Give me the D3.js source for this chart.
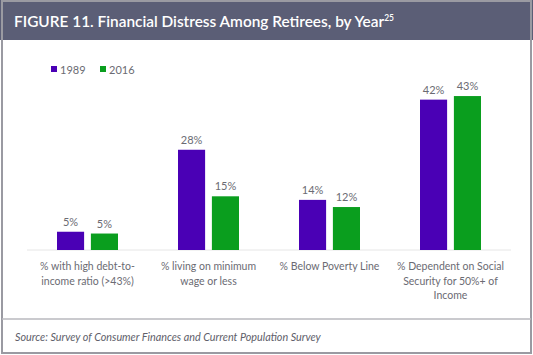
<!DOCTYPE html>
<html><head><meta charset="utf-8">
<script src="https://cdn.jsdelivr.net/npm/d3@7"></script>
<style>body{margin:0;background:#fff;}svg{display:block;}</style>
</head><body>
<script>
const categories = [
  ["% with high debt-to-", "income ratio (>43%)"],
  ["% living on minimum", "wage or less"],
  ["% Below Poverty Line"],
  ["% Dependent on Social", "Security for 50%+ of", "Income"]
];
const seriesNames = ["1989", "2016"];
const values1989 = [5.1, 28, 14, 42];
const values2016 = [4.6, 15, 12, 43];
const colors = ["#4a00b5", "#0a9e1e"];

const W = 533, H = 355;
const svg = d3.select("body").append("svg").attr("width", W).attr("height", H);
const font = "Lato, 'Source Sans Pro', sans-serif";

// frame
svg.append("rect").attr("x", 0).attr("y", 0).attr("width", W).attr("height", 40).attr("fill", "#5b5e76");
svg.append("rect").attr("x", 2).attr("y", 1).attr("width", 529).attr("height", 352)
  .attr("fill", "none").attr("stroke", "#9a9aa2").attr("stroke-width", 2);
svg.append("line").attr("x1", 2).attr("x2", 531).attr("y1", 319).attr("y2", 319).attr("stroke", "#b8b8be").attr("stroke-width", 1.5);

const title = svg.append("text").attr("x", 14).attr("y", 27).attr("fill", "#fff")
  .style("font-family", font).style("font-size", "15.4px").style("font-weight", "600");
title.append("tspan").text("FIGURE 11. Financial Distress Among Retirees, by Year");
title.append("tspan").attr("dy", -6).style("font-size", "8.5px").text("25");

// scales
const x0 = d3.scaleBand().domain(d3.range(categories.length)).range([27, 511]).padding(0);
const x1 = d3.scaleBand().domain(seriesNames).range([-30.5, 30.5]).paddingInner(0.2);
const y = d3.scaleLinear().domain([0, 50]).range([250, 71]);

svg.append("line").attr("x1", 27).attr("x2", 511).attr("y1", y(0)).attr("y2", y(0))
  .attr("stroke", "#e6e6e6").attr("stroke-width", 1);

const series = [values1989, values2016];
const fmt = d3.format(".0f");
series.forEach((vals, si) => {
  const g = svg.append("g");
  g.selectAll("rect").data(vals).join("rect")
    .attr("x", (d, i) => x0(i) + x0.bandwidth() / 2 + x1(seriesNames[si]))
    .attr("y", d => y(d)).attr("width", x1.bandwidth()).attr("height", d => y(0) - y(d))
    .attr("fill", colors[si]);
  g.selectAll("text").data(vals).join("text")
    .attr("x", (d, i) => x0(i) + x0.bandwidth() / 2 + x1(seriesNames[si]) + x1.bandwidth() / 2)
    .attr("y", d => y(d) - 6).attr("text-anchor", "middle")
    .attr("fill", "#6b6b73").style("font-family", font).style("font-size", "11px")
    .text(d => fmt(d) + "%");
});

// category labels
categories.forEach((lines, i) => {
  const t = svg.append("text").attr("x", x0(i) + x0.bandwidth() / 2).attr("y", 270)
    .attr("text-anchor", "middle").attr("fill", "#6b6b73")
    .style("font-family", font).style("font-size", "10.5px");
  lines.forEach((l, j) => t.append("tspan").attr("x", x0(i) + x0.bandwidth() / 2).attr("dy", j ? 14.5 : 0).text(l));
});

// legend
const legX = [51, 100];
seriesNames.forEach((s, i) => {
  svg.append("rect").attr("x", legX[i]).attr("y", 66).attr("width", 6).attr("height", 6).attr("fill", colors[i]);
  svg.append("text").attr("x", legX[i] + 9).attr("y", 73.5).attr("fill", "#6b6b73")
    .style("font-family", font).style("font-size", "11px").text(s);
});

// source
svg.append("text").attr("x", 15).attr("y", 341).attr("fill", "#60606a")
  .style("font-family", font).style("font-size", "10.8px").style("font-style", "italic")
  .text("Source: Survey of Consumer Finances and Current Population Survey");
</script>
</body></html>
